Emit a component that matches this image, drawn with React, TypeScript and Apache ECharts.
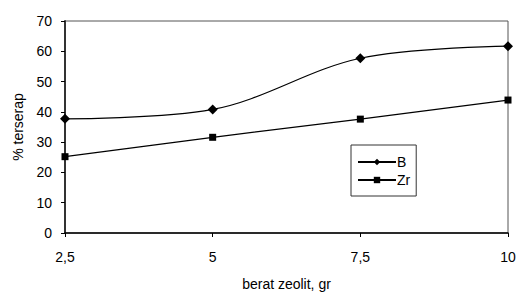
import React, { useEffect, useRef } from "react";
import * as echarts from "echarts";

const xValues = [2.5, 5, 7.5, 10];
const seriesB = [37.7, 40.8, 57.7, 61.7];
const seriesZr = [25.2, 31.6, 37.6, 43.9];
const yTicks = { min: 0, max: 70, interval: 10 };

export default function App() {
  const ref = useRef<HTMLDivElement>(null);
  useEffect(() => {
    if (!ref.current) return;
    const chart = echarts.init(ref.current, null, { renderer: "svg" });
    const font = "Liberation Sans, Arial, sans-serif";
    chart.setOption({
      animation: false,
      backgroundColor: "#ffffff",
      textStyle: { fontFamily: font },
      grid: {
        left: 65,
        right: 12,
        top: 21,
        bottom: 64,
        show: true,
        borderColor: "#555",
        borderWidth: 1,
      },
      legend: {
        orient: "vertical",
        left: 351,
        top: 145,
        width: 65,
        padding: [10, 6, 9, 6],
        itemGap: 4,
        itemWidth: 38,
        itemHeight: 8,
        borderColor: "#333",
        borderWidth: 1,
        textStyle: { fontFamily: font, fontSize: 14, color: "#000", padding: [0, 0, 0, -4] },
        data: ["B", "Zr"],
      },
      xAxis: {
        type: "value",
        min: 2.5,
        max: 10,
        interval: 2.5,
        name: "berat zeolit, gr",
        nameLocation: "middle",
        nameGap: 44,
        nameTextStyle: { fontFamily: font, fontSize: 14, color: "#000" },
        axisLine: { lineStyle: { color: "#000", width: 1.5 } },
        axisTick: { show: true, inside: false, length: 4, lineStyle: { color: "#000" } },
        axisLabel: {
          color: "#000",
          fontSize: 14,
          margin: 17,
          formatter: (v: number) => String(v).replace(".", ","),
        },
        splitLine: { show: false },
      },
      yAxis: {
        type: "value",
        min: yTicks.min,
        max: yTicks.max,
        interval: yTicks.interval,
        name: "% terserap",
        nameLocation: "middle",
        nameGap: 40,
        nameRotate: 90,
        nameTextStyle: { fontFamily: font, fontSize: 14, color: "#000" },
        axisLine: { show: true, lineStyle: { color: "#333", width: 2 } },
        axisTick: { show: true, length: 4, lineStyle: { color: "#000" } },
        axisLabel: { color: "#000", fontSize: 14, margin: 13 },
        splitLine: { show: false },
      },
      series: [
        {
          name: "B",
          type: "line",
          data: xValues.map((x, i) => [x, seriesB[i]]),
          smooth: 0.35,
          symbol: "diamond",
          symbolSize: 10,
          itemStyle: { color: "#000" },
          lineStyle: { color: "#000", width: 1.2 },
        },
        {
          name: "Zr",
          type: "line",
          data: xValues.map((x, i) => [x, seriesZr[i]]),
          smooth: false,
          symbol: "rect",
          symbolSize: 7,
          itemStyle: { color: "#000" },
          lineStyle: { color: "#000", width: 1.2 },
        },
      ],
    });
    return () => chart.dispose();
  }, []);
  return <div ref={ref} style={{ width: 520, height: 297, position: "absolute", left: 0, top: 0 }} />;
}
